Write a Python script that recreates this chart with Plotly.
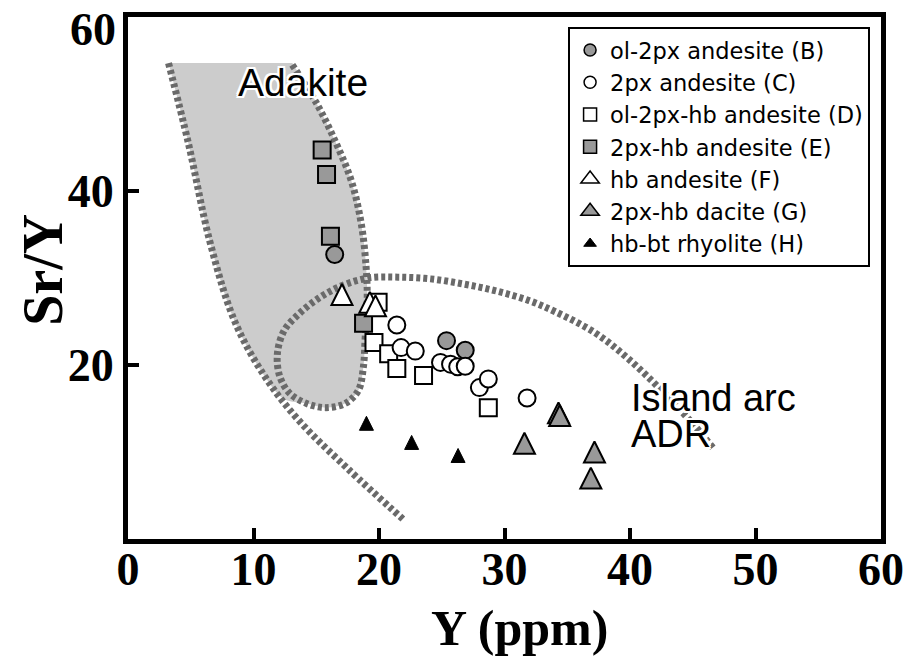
import plotly.graph_objects as go

# ---- sample data: Y (ppm) vs Sr/Y ----
b_y_ppm = [16.47, 25.38, 26.87]
b_sr_y = [32.7, 22.8, 21.7]

c_y_ppm = [21.42, 21.76, 22.89, 24.9, 25.7, 26.27, 26.87, 28.0, 28.71, 31.8]
c_sr_y = [24.6, 22.0, 21.6, 20.3, 20.1, 19.8, 19.85, 17.4, 18.4, 16.2]

d_y_ppm = [19.93, 19.6, 20.77, 21.42, 23.55, 28.71]
d_sr_y = [27.2, 22.6, 21.3, 19.6, 18.8, 15.1]

e_y_ppm = [15.47, 15.82, 16.13, 18.77]
e_sr_y = [44.7, 41.9, 34.8, 24.8]

f_y_ppm = [17.05, 19.27, 19.72]
f_sr_y = [28.1, 27.2, 26.8]

g_y_ppm = [34.3, 34.4, 31.59, 37.17, 36.88]
g_sr_y = [14.5, 14.2, 11.0, 10.0, 7.0]

h_y_ppm = [19.0, 22.6, 26.3]
h_sr_y = [13.3, 11.1, 9.6]

# ---- discrimination field boundaries ----
adakite_fill_x = [3.23, 4.81, 6.54, 8.51, 10.87, 12.45, 14.18, 15.76, 17.33, 18.36, 18.75,
                  18.9, 19.06, 18.98, 18.59, 17.81, 16.55, 14.98, 13.09]
adakite_fill_y = [54.7, 45.5, 34.1, 25.0, 18.75, 16.1, 15.6, 15.1, 15.6, 17.1, 19.7,
                  23.2, 27.4, 31.1, 36.2, 41.1, 45.6, 50.2, 54.7]

adakite_left_x = [3.23, 4.81, 6.54, 8.51, 10.87, 13.63, 17.57, 21.9]
adakite_left_y = [54.7, 45.5, 34.1, 25.0, 18.75, 13.6, 8.0, 2.3]

boundary_x = [13.09, 14.98, 16.55, 17.81, 18.59, 18.98, 19.06, 18.9, 18.75, 18.36, 17.33,
              15.76, 14.19, 12.85, 12.07, 11.91, 12.46, 13.64, 15.21, 17.02, 19.14, 21.5,
              24.1, 26.77, 29.36, 31.96, 34.08, 37.22, 39.8, 42.5, 45.1, 46.6]
boundary_y = [54.5, 50.2, 45.6, 41.1, 36.2, 31.1, 27.4, 23.2, 19.7, 17.1, 15.6,
              15.1, 15.6, 16.8, 18.8, 21.4, 24.0, 25.9, 27.7, 29.1, 30.0, 30.1,
              29.9, 29.3, 28.5, 27.4, 26.1, 23.7, 20.8, 17.1, 13.1, 10.5]

x_ticks = [0, 10, 20, 30, 40, 50, 60]
y_ticks = [20, 40]

GREY = "#999999"
FIELD_LINE = "#6a6a6a"
DASH = "4px,3px"

fig = go.Figure()

fig.add_trace(go.Scatter(x=adakite_fill_x, y=adakite_fill_y, mode="lines", fill="toself",
                         fillcolor="#cccccc", line=dict(width=0, shape="spline"),
                         hoverinfo="skip", showlegend=False))
fig.add_trace(go.Scatter(x=adakite_left_x, y=adakite_left_y, mode="lines",
                         line=dict(color=FIELD_LINE, width=7, dash=DASH, shape="spline"),
                         hoverinfo="skip", showlegend=False))
fig.add_trace(go.Scatter(x=boundary_x, y=boundary_y, mode="lines",
                         line=dict(color=FIELD_LINE, width=7, dash=DASH, shape="spline"),
                         hoverinfo="skip", showlegend=False))


def tri(fill, size, lw=2):
    # upright isosceles triangle centred on the point
    return dict(symbol="arrow-down", angle=180, standoff=size / 2, size=size,
                color=fill, line=dict(color="black", width=lw))


def tri_legend(fill, size, lw=1.5):
    return dict(symbol="triangle-up", size=size, color=fill,
                line=dict(color="black", width=lw))


styles = {
    "B": dict(symbol="circle", size=17, color=GREY, line=dict(color="black", width=2)),
    "C": dict(symbol="circle", size=17, color="white", line=dict(color="black", width=2)),
    "D": dict(symbol="square", size=17, color="white", line=dict(color="black", width=2)),
    "E": dict(symbol="square", size=17, color=GREY, line=dict(color="black", width=2)),
    "F": tri("white", 21),
    "G": tri(GREY, 21),
    "H": tri("black", 14, 1),
}
legend_styles = {
    "B": dict(symbol="circle", size=12, color=GREY, line=dict(color="black", width=1.5)),
    "C": dict(symbol="circle", size=12, color="white", line=dict(color="black", width=1.5)),
    "D": dict(symbol="square", size=13, color="white", line=dict(color="black", width=1.5)),
    "E": dict(symbol="square", size=13, color=GREY, line=dict(color="black", width=1.5)),
    "F": tri_legend("white", 16),
    "G": tri_legend(GREY, 16),
    "H": tri_legend("black", 11, 1),
}
names = {
    "B": "ol-2px andesite (B)",
    "C": "2px andesite (C)",
    "D": "ol-2px-hb andesite (D)",
    "E": "2px-hb andesite (E)",
    "F": "hb andesite (F)",
    "G": "2px-hb dacite (G)",
    "H": "hb-bt rhyolite (H)",
}
series = {
    "B": (b_y_ppm, b_sr_y), "C": (c_y_ppm, c_sr_y), "D": (d_y_ppm, d_sr_y),
    "E": (e_y_ppm, e_sr_y), "F": (f_y_ppm, f_sr_y), "G": (g_y_ppm, g_sr_y),
    "H": (h_y_ppm, h_sr_y),
}

# drawing order for overlapping symbols
for key in ["B", "D", "C", "E", "F", "G", "H"]:
    xs, ys = series[key]
    fig.add_trace(go.Scatter(x=xs, y=ys, mode="markers", marker=styles[key],
                             name=names[key], showlegend=False))

# legend entries
for rank, key in enumerate(["B", "C", "D", "E", "F", "G", "H"]):
    fig.add_trace(go.Scatter(x=[None], y=[None], mode="markers", marker=legend_styles[key],
                             name=names[key], legendrank=rank + 1, showlegend=True))

halo = ", ".join(f"{dx}px {dy}px 0 white" for dx in (-2, 0, 2) for dy in (-2, 0, 2)
                 if (dx, dy) != (0, 0))

num_font = dict(family="Liberation Serif", size=46, color="black", weight="bold")

fig.update_layout(
    width=916, height=656, autosize=False,
    margin=dict(l=128, r=28, t=15, b=117),
    paper_bgcolor="white", plot_bgcolor="white",
    xaxis=dict(range=[0, 60], tickvals=x_ticks, ticks="inside", ticklen=11, tickwidth=4,
               tickcolor="black", showline=True, linewidth=5, linecolor="black", mirror=True,
               showgrid=False, zeroline=False, tickfont=num_font, ticklabelstandoff=-14),
    yaxis=dict(range=[0, 60], tickvals=y_ticks, ticks="inside", ticklen=11, tickwidth=4,
               tickcolor="black", showline=True, linewidth=5, linecolor="black", mirror=True,
               showgrid=False, zeroline=False, tickfont=num_font),
    legend=dict(x=0.9855, y=0.981, xanchor="right", yanchor="top", bgcolor="white",
                bordercolor="black", borderwidth=2,
                font=dict(family="DejaVu Sans", size=22.5, color="black"),
                itemsizing="trace", traceorder="normal"),
    showlegend=True,
)

fig.add_annotation(text="60", xref="paper", yref="paper", x=-0.046, y=0.977,
                   xanchor="center", yanchor="middle", showarrow=False, font=num_font)
fig.add_annotation(text="Sr/Y", xref="paper", yref="paper", x=-0.112, y=0.515,
                   textangle=-90, xanchor="center", yanchor="middle", showarrow=False,
                   font=dict(family="Liberation Serif", size=56, color="black", weight="bold"))
fig.add_annotation(text="Y (ppm)", xref="paper", yref="paper", x=0.52, y=-0.17,
                   xanchor="center", yanchor="middle", showarrow=False,
                   font=dict(family="Liberation Serif", size=50, color="black", weight="bold"))
fig.add_annotation(text="Adakite", x=13.95, y=52.5, xanchor="center", yanchor="middle",
                   showarrow=False,
                   font=dict(family="Liberation Sans", size=39, color="black", shadow=halo))
fig.add_annotation(text="Island arc", x=39.9, y=16.2, xanchor="left", yanchor="middle",
                   showarrow=False, height=32,
                   font=dict(family="Liberation Sans", size=38, color="black", shadow=halo))
fig.add_annotation(text="ADR", x=39.9, y=12.1, xanchor="left", yanchor="middle",
                   showarrow=False, height=32,
                   font=dict(family="Liberation Sans", size=38, color="black", shadow=halo))

fig.write_html("out.html", config={"displayModeBar": False})
